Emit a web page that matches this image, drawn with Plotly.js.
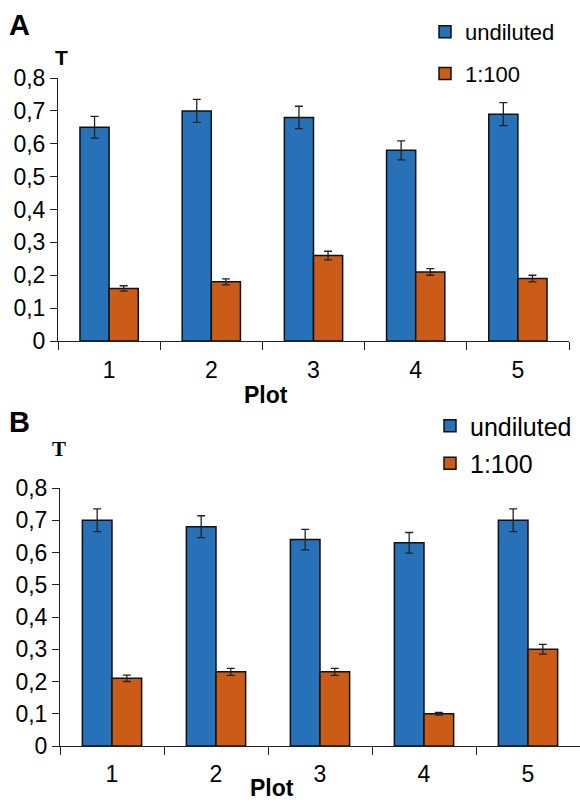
<!DOCTYPE html>
<html>
<head>
<meta charset="utf-8">
<script src="https://cdn.plot.ly/plotly-3.0.1.min.js"></script>
<style>html,body{margin:0;padding:0;background:#fff;}#chart{width:580px;height:803px;}</style>
</head>
<body>
<div id="chart"></div>
<script>
const plots = ["1", "2", "3", "4", "5"];
const seriesNames = ["undiluted", "1:100"];
// Panel A
const aUndiluted = [0.65, 0.70, 0.68, 0.58, 0.69];
const aUndilutedErr = [0.033, 0.035, 0.034, 0.029, 0.035];
const aDiluted = [0.16, 0.18, 0.26, 0.21, 0.19];
const aDilutedErr = [0.008, 0.009, 0.013, 0.010, 0.010];
// Panel B
const bUndiluted = [0.70, 0.68, 0.64, 0.63, 0.70];
const bUndilutedErr = [0.035, 0.034, 0.032, 0.032, 0.035];
const bDiluted = [0.21, 0.23, 0.23, 0.10, 0.30];
const bDilutedErr = [0.010, 0.011, 0.011, 0.004, 0.015];
const yTickVals = [0, 0.1, 0.2, 0.3, 0.4, 0.5, 0.6, 0.7, 0.8];
const yTickText = ["0", "0,1", "0,2", "0,3", "0,4", "0,5", "0,6", "0,7", "0,8"];
const xTitle = "Plot";
const yTitle = "T";

const W = 580, H = 803;
const px = v => v / W;
const py = v => 1 - v / H;
const BLUE = "#2671B8", ORANGE = "#CB5C17";
const FONT = "Liberation Sans, Arial, sans-serif";

function bar(x, y, err, name, color, xa, ya, leg, grp) {
  return {
    type: "bar", x: x, y: y, name: name,
    xaxis: xa, yaxis: ya, legend: leg, legendgroup: grp,
    marker: {color: color, line: {color: "#111", width: 1.5}},
    error_y: {type: "data", array: err, visible: true, color: "#222", thickness: 1.3, width: 4}
  };
}

const data = [
  bar(plots, aUndiluted, aUndilutedErr, seriesNames[0], BLUE, "x", "y", "legend", "a1"),
  bar(plots, aDiluted, aDilutedErr, seriesNames[1], ORANGE, "x", "y", "legend", "a2"),
  bar(plots, bUndiluted, bUndilutedErr, seriesNames[0], BLUE, "x2", "y2", "legend2", "b1"),
  bar(plots, bDiluted, bDilutedErr, seriesNames[1], ORANGE, "x2", "y2", "legend2", "b2")
];

function xAxis(domain, anchor, standoff) {
  return {
    domain: domain, anchor: anchor, type: "category",
    showline: true, linecolor: "#222", linewidth: 1,
    ticks: "outside", tickson: "boundaries", ticklen: 8, tickcolor: "#222", tickwidth: 1,
    showgrid: false, zeroline: false, ticklabelstandoff: standoff,
    tickfont: {family: FONT, size: 23, color: "#000"}
  };
}
function yAxis(domain, anchor) {
  return {
    domain: domain, anchor: anchor, range: [0, 0.8],
    showline: true, linecolor: "#222", linewidth: 1,
    ticks: "outside", ticklen: 7, tickcolor: "#222", tickwidth: 1,
    tickvals: yTickVals, ticktext: yTickText,
    showgrid: false, zeroline: false,
    tickfont: {family: FONT, size: 23, color: "#000"}
  };
}

function ann(text, x, y, size, family, xanchor, yanchor) {
  return {text: text, xref: "paper", yref: "paper", x: px(x), y: py(y),
    xanchor: xanchor || "center", yanchor: yanchor || "middle", showarrow: false,
    borderpad: 0,
    font: {family: family || FONT, size: size, color: "#000"}};
}

const layout = {
  width: W, height: H,
  margin: {l: 0, r: 0, t: 0, b: 0},
  paper_bgcolor: "#fff", plot_bgcolor: "#fff",
  barmode: "group", bargap: 0.43, bargroupgap: 0,
  xaxis: xAxis([px(58), px(569)], "y", 8),
  yaxis: yAxis([py(341), py(78)], "x"),
  xaxis2: xAxis([px(60), px(580)], "y2", 7),
  yaxis2: yAxis([py(746), py(488)], "x2"),
  legend: {traceorder: "grouped", tracegroupgap: 10, font: {family: FONT, size: 22, color: "#000"},
    bgcolor: "rgba(0,0,0,0)", xanchor: "left", yanchor: "top", x: px(425), y: py(11)},
  legend2: {traceorder: "grouped", tracegroupgap: 2, font: {family: FONT, size: 25, color: "#000"},
    bgcolor: "rgba(0,0,0,0)", xanchor: "left", yanchor: "top", x: px(430), y: py(403)},
  annotations: [
    ann("<b>A</b>", 8, 25, 29, FONT, "left"),
    ann("<b>" + yTitle + "</b>", 61, 57, 21),
    ann("<b>" + xTitle + "</b>", 266, 395, 23),
    ann("<b>B</b>", 8, 422, 29, FONT, "left"),
    ann("<b>" + yTitle + "</b>", 59, 449, 21, "Liberation Serif, Times New Roman, serif"),
    ann("<b>" + xTitle + "</b>", 272, 802, 23, FONT, "center", "bottom")
  ]
};

Plotly.newPlot("chart", data, layout, {displayModeBar: false, staticPlot: true});
</script>
</body>
</html>
